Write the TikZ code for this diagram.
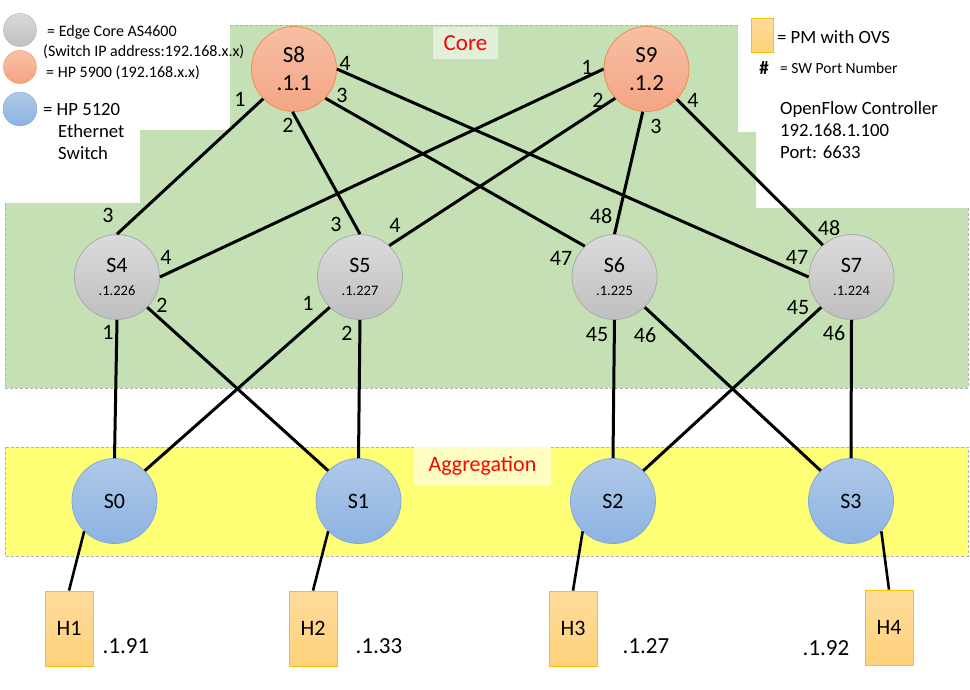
\documentclass[tikz,border=0pt]{standalone}
\usepackage{fontspec}
\setmainfont{Carlito}
\usetikzlibrary{shapes.geometric}
\definecolor{greenbg}{HTML}{C5E0B4}
\definecolor{greenlt}{HTML}{E2EFD9}
\definecolor{yellowbg}{HTML}{FFFF75}
\definecolor{yellowlt}{HTML}{FFFFC4}
\definecolor{greyTop}{HTML}{DBDBDB}
\definecolor{greyBot}{HTML}{BFBFBF}
\definecolor{greyLine}{HTML}{ABABAB}
\definecolor{orTop}{HTML}{F7BFA4}
\definecolor{orBot}{HTML}{F4A584}
\definecolor{orLine}{HTML}{F08C50}
\definecolor{blTop}{HTML}{AFC8E8}
\definecolor{blBot}{HTML}{8DB3E2}
\definecolor{blLine}{HTML}{7FA8DA}
\definecolor{hoTop}{HTML}{FFDC9C}
\definecolor{hoBot}{HTML}{FFD27A}
\definecolor{hoLine}{HTML}{FFC000}
\definecolor{redtxt}{HTML}{FF0000}
\newcommand{\fsz}[2]{\fontsize{#1}{#2}\selectfont}
\begin{document}
\begin{tikzpicture}[x=1pt,y=-1pt,
  sw/.style={circle, minimum size=85pt, inner sep=0pt, align=center, line width=0.8pt},
  greysw/.style={sw, draw=greyLine, top color=greyTop, bottom color=greyBot},
  orsw/.style={sw, draw=orLine, top color=orTop, bottom color=orBot},
  blsw/.style={sw, draw=blLine, top color=blTop, bottom color=blBot, font=\fsz{22}{26}},
  host/.style={rectangle, minimum width=48pt, minimum height=75pt, inner sep=0pt, draw=hoLine, line width=0.8pt, top color=hoTop, bottom color=hoBot, font=\fsz{22}{26}},
  port/.style={inner sep=0pt, font=\fsz{22}{26}},
  ip/.style={inner sep=0pt, font=\fsz{23}{26}},
  leg/.style={inner sep=0pt, anchor=west},
  link/.style={line width=3pt, black},
  hlink/.style={line width=2.6pt, black},
  zoneline/.style={densely dashed, gray!60, line width=0.5pt}
]
\useasboundingbox (0,0) rectangle (970,689);
% zones
\fill[greenbg] (230,25) -- (738,25) -- (738,132) -- (756,132) -- (756,208) -- (968,208) -- (968,388) -- (5,388) -- (5,203) -- (140,203) -- (140,130) -- (230,130) -- cycle;
\draw[zoneline] (230,25) -- (738,25);
\draw[zoneline] (5,203) -- (5,388) -- (968,388) -- (968,208);
\fill[yellowbg] (5,447) rectangle (968,556);
\draw[zoneline] (5,447) rectangle (968,556);
\node[fill=greenlt, minimum width=65pt, minimum height=32pt, inner sep=0pt, text=redtxt, font=\fsz{23}{26}] (core) at (465.5,43) {Core};
\node[fill=yellowlt, minimum width=137pt, minimum height=38pt, inner sep=0pt, text=redtxt, font=\fsz{22}{26}] (aggr) at (482.5,466) {Aggregation};
% legend
\node[circle, minimum size=33pt, inner sep=0pt, draw=greyLine, top color=greyTop, bottom color=greyBot] (lg1) at (20,30) {};
\node[circle, minimum size=33pt, inner sep=0pt, draw=orLine, top color=orTop, bottom color=orBot] (lg2) at (20,67) {};
\node[circle, minimum size=34pt, inner sep=0pt, draw=blLine, top color=blTop, bottom color=blBot] (lg3) at (20,109) {};
\node[leg, font=\fsz{16}{19}] (lt1) at (47,32) {= Edge Core AS4600};
\node[leg, font=\fsz{16}{19}] (lt2) at (43,52) {(Switch IP address:192.168.x.x)};
\node[leg, font=\fsz{16}{19}] (lt3) at (46,73) {= HP 5900 (192.168.x.x)};
\node[leg, font=\fsz{18.7}{22}] (lt4) at (43,109) {= HP 5120};
\node[leg, font=\fsz{18.7}{22}] (lt5) at (58,131) {Ethernet};
\node[leg, font=\fsz{18.7}{22}] (lt6) at (58,153) {Switch};
\node[rectangle, minimum width=22pt, minimum height=34pt, inner sep=0pt, draw=hoLine, top color=hoTop, bottom color=hoBot] (lg4) at (762,35) {};
\node[leg, font=\fsz{18.7}{22}] (lt7) at (777,37) {= PM with OVS};
\node[inner sep=0pt, font=\fsz{19}{22}\bfseries] (lt8) at (764,68) {\#};
\node[leg, font=\fsz{15.5}{19}] (lt9) at (780,68) {= SW Port Number};
\node[anchor=north west, inner sep=0pt, align=left, font=\fsz{18.7}{22}] (ctrl) at (780,101) {OpenFlow Controller\\192.168.1.100\\Port: 6633};
% switches
\node[orsw, font=\fsz{23}{28}] (S8) at (294,69) {S8\\.1.1};
\node[orsw, font=\fsz{23}{28}] (S9) at (646.5,69) {S9\\.1.2};
\node[greysw, font=\fsz{22}{23}] (S4) at (117,277) {S4\\{\fsz{14.5}{16}.1.226}};
\node[greysw, font=\fsz{22}{23}] (S5) at (360,277) {S5\\{\fsz{14.5}{16}.1.227}};
\node[greysw, font=\fsz{22}{23}] (S6) at (614.5,277) {S6\\{\fsz{14.5}{16}.1.225}};
\node[greysw, font=\fsz{22}{23}] (S7) at (851.5,277) {S7\\{\fsz{14.5}{16}.1.224}};
\node[blsw] (S0) at (114.5,501) {S0};
\node[blsw] (S1) at (358.5,501) {S1};
\node[blsw] (S2) at (613,501) {S2};
\node[blsw] (S3) at (851,501) {S3};
% hosts
\node[host] (H1) at (69,628.5) {H1};
\node[host] (H2) at (313,628.5) {H2};
\node[host] (H3) at (573,628.5) {H3};
\node[host] (H4) at (889,627.5) {H4};
\node[ip] (ip1) at (126,646) {.1.91};
\node[ip] (ip2) at (379,646) {.1.33};
\node[ip] (ip3) at (646,646) {.1.27};
\node[ip] (ip4) at (826,648) {.1.92};
% links core
\draw[link] (S8.224) -- (S4.north);
\draw[link] (S8.268) -- (S5.north);
\draw[link] (S8.-43) -- (S6.134);
\draw[link] (S8.east) -- (S7.west);
\draw[link] (S9.west) -- (S4.east);
\draw[link] (S9.223) -- (S5.47);
\draw[link] (S9.265) -- (S6.north);
\draw[link] (S9.315) -- (S7.132);
% links aggregation
\draw[link] (S4.south) -- (S0.north);
\draw[link] (S4.315) -- (S1.135);
\draw[link] (S5.225) -- (S0.45);
\draw[link] (S5.south) -- (S1.north);
\draw[link] (S6.south) -- (S2.north);
\draw[link] (S6.315) -- (S3.135);
\draw[link] (S7.225) -- (S2.45);
\draw[link] (S7.south) -- (S3.north);
% host links
\draw[hlink] (S0.225) -- (H1.north);
\draw[hlink] (S1.225) -- (H2.north);
\draw[hlink] (S2.225) -- (H3.north);
\draw[hlink] (S3.315) -- (H4.north);
% port numbers
\node[port] (p81) at (240,99) {1};
\node[port] (p82) at (288,125) {2};
\node[port] (p83) at (342,95) {3};
\node[port] (p84) at (345,63) {4};
\node[port] (p91) at (587,67) {1};
\node[port] (p92) at (598,100) {2};
\node[port] (p93) at (656,126) {3};
\node[port] (p94) at (693,100) {4};
\node[port] (p43) at (108,215) {3};
\node[port] (p44) at (166,257) {4};
\node[port] (p42) at (162,305) {2};
\node[port] (p41) at (108,332) {1};
\node[port] (p53) at (336,224) {3};
\node[port] (p54) at (395,225) {4};
\node[port] (p51) at (308,303) {1};
\node[port] (p52) at (347,333) {2};
\node[port] (p648) at (601,216) {48};
\node[port] (p647) at (561,258) {47};
\node[port] (p645) at (597,335) {45};
\node[port] (p646) at (645,335) {46};
\node[port] (p748) at (829,228) {48};
\node[port] (p747) at (797,257) {47};
\node[port] (p745) at (798,308) {45};
\node[port] (p746) at (834,333) {46};
\end{tikzpicture}
\end{document}
